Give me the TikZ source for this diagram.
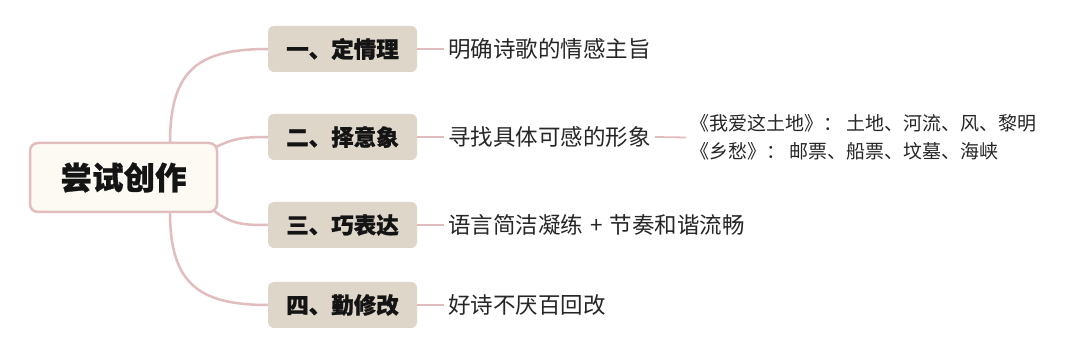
\documentclass[tikz,border=0pt]{standalone}
\usepackage{fontspec}
\newfontfamily\cjk{Noto Sans CJK SC}
\newfontfamily\cjkheavy{Noto Sans CJK SC}[BoldFeatures={FakeBold=0.9}]
\definecolor{rootfill}{HTML}{FDFAF4}
\definecolor{pinkline}{HTML}{E2BDBF}
\definecolor{boxfill}{HTML}{DED6C9}
\definecolor{txt}{HTML}{141414}
\definecolor{leaftxt}{HTML}{262626}
\tikzset{
  rootbox/.style={draw=pinkline, line width=2.5pt, fill=rootfill, rounded corners=8pt,
    minimum width=187pt, minimum height=69pt, inner sep=0pt,
    font=\cjkheavy\bfseries\fontsize{31.5}{31.5}\selectfont, text=txt},
  branchbox/.style={fill=boxfill, rounded corners=6pt, minimum width=149pt,
    minimum height=46pt, inner sep=0pt, font=\cjkheavy\bfseries\fontsize{22.5}{22.5}\selectfont, text=txt},
  leaf/.style={anchor=west, inner xsep=4pt, inner ysep=0pt,
    font=\cjk\fontsize{22.5}{22.5}\selectfont, text=leaftxt},
  subleaf/.style={anchor=west, inner xsep=4pt, inner ysep=0pt, align=left,
    font=\cjk\fontsize{19}{27.5}\selectfont, text=leaftxt},
  link/.style={draw=pinkline, line width=2.5pt},
  thin link/.style={draw=pinkline, line width=1.8pt}
}
\begin{document}
\begin{tikzpicture}[x=1pt,y=-1pt]
\fill[white] (0,0) rectangle (1080,355);
\useasboundingbox (0,0) rectangle (1080,355);
% curves (drawn first, behind boxes)
\coordinate (r1) at (170,143);
\coordinate (r2) at (216,147);
\coordinate (r3) at (213,210);
\coordinate (r4) at (170,212);
\coordinate (b1) at (268.5,49);
\coordinate (b2) at (268.5,137);
\coordinate (b3) at (268.5,225);
\coordinate (b4) at (268.5,305);
\draw[link] (r1) .. controls (170,68) and (200,49) .. (b1);
\draw[link] (r2) .. controls (234,138) and (245,137) .. (b2);
\draw[link] (r3) .. controls (232,225) and (245,225) .. (b3);
\draw[link] (r4) .. controls (170,285) and (200,305) .. (b4);
% root
\node[rootbox] (root) at (123.5,177.5) {尝试创作};
% branches
\node[branchbox] (n1) at (342.5,49) {一、定情理};
\node[branchbox] (n2) at (342.5,137) {二、择意象};
\node[branchbox] (n3) at (342.5,225) {三、巧表达};
\node[branchbox] (n4) at (342.5,305) {四、勤修改};
% leaves
\node[leaf] (l1) at (444,49) {明确诗歌的情感主旨};
\node[leaf] (l2) at (444,137) {寻找具体可感的形象};
\node[leaf] (l3) at (444,225) {语言简洁凝练\hspace{7pt}+\hspace{7pt}节奏和谐流畅};
\node[leaf] (l4) at (444,305) {好诗不厌百回改};
\node[subleaf] (s2) at (686,137.5) {《我爱这土地》： 土地、河流、风、黎明\\《乡愁》： 邮票、船票、坟墓、海峡};
% connectors branch -> leaf
\draw[thin link] (n1.east) -- (l1.west);
\draw[thin link] (n2.east) -- (l2.west);
\draw[thin link] (n3.east) -- (l3.west);
\draw[thin link] (n4.east) -- (l4.west);
\draw[thin link] (l2.east) -- (s2.west);
\end{tikzpicture}
\end{document}
